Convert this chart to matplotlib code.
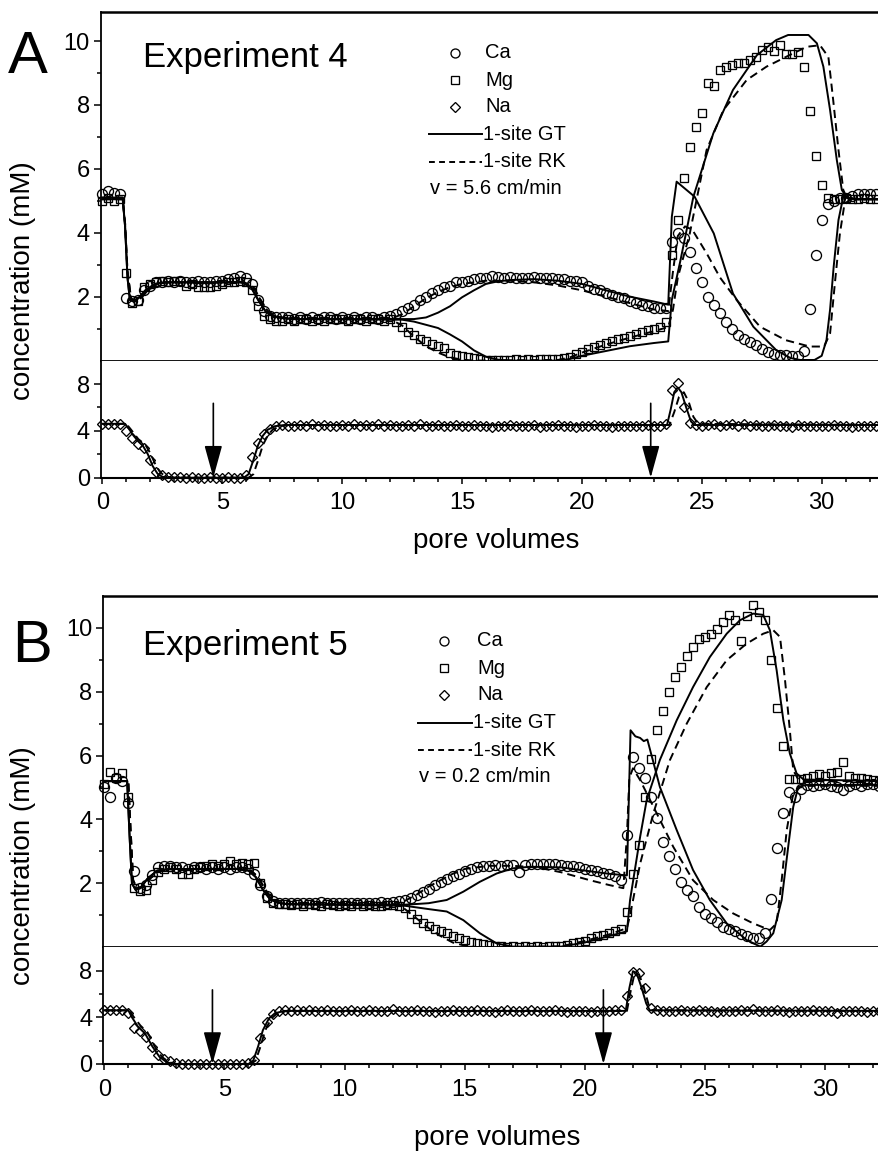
import numpy as np
import matplotlib

matplotlib.use("Agg")
import matplotlib.pyplot as plt
from matplotlib.lines import Line2D

plt.rcParams["font.family"] = ["Liberation Sans", "DejaVu Sans"]

W, H = 879, 1151

# effluent fractions, one every quarter pore volume
PV_STEP = 0.25
pv = np.arange(130) * PV_STEP

# ── Experiment 4 (v = 5.6 cm/min) ────────────────────────────────────────────
ca_4 = [
    5.2, 5.3, 5.25, 5.2, 1.95, 1.85, 1.9, 2.2, 2.35, 2.45,
    2.45, 2.5, 2.45, 2.5, 2.45, 2.45, 2.5, 2.45, 2.45, 2.5,
    2.5, 2.55, 2.6, 2.65, 2.6, 2.4, 1.9, 1.55, 1.4, 1.35,
    1.35, 1.35, 1.3, 1.35, 1.3, 1.35, 1.3, 1.35, 1.35, 1.3,
    1.35, 1.3, 1.35, 1.3, 1.35, 1.35, 1.3, 1.35, 1.4, 1.45,
    1.55, 1.65, 1.75, 1.9, 2.0, 2.1, 2.2, 2.3, 2.35, 2.45,
    2.45, 2.5, 2.55, 2.6, 2.6, 2.65, 2.62, 2.6, 2.62, 2.6,
    2.6, 2.58, 2.62, 2.6, 2.6, 2.58, 2.55, 2.55, 2.5, 2.5,
    2.45, 2.35, 2.25, 2.2, 2.1, 2.05, 2.0, 1.95, 1.85, 1.8,
    1.75, 1.7, 1.65, 1.65, 1.65, 3.7, 4.0, 3.85, 3.4, 2.9,
    2.45, 2.0, 1.75, 1.5, 1.2, 1.0, 0.8, 0.68, 0.58, 0.48,
    0.36, 0.28, 0.22, 0.18, 0.16, 0.13, 0.15, 0.3, 1.6, 3.3,
    4.4, 4.9, 5.0, 5.1, 5.1, 5.15, 5.2, 5.2, 5.2, 5.2,
]
mg_4 = [
    5.0, 5.1, 5.0, 5.05, 2.74, 1.8, 1.85, 2.3, 2.4, 2.45,
    2.5, 2.45, 2.5, 2.5, 2.35, 2.4, 2.3, 2.3, 2.3, 2.35,
    2.4, 2.45, 2.45, 2.5, 2.45, 2.2, 1.7, 1.4, 1.3, 1.25,
    1.25, 1.3, 1.25, 1.3, 1.3, 1.25, 1.3, 1.25, 1.3, 1.3,
    1.3, 1.25, 1.3, 1.3, 1.25, 1.3, 1.3, 1.25, 1.3, 1.2,
    1.05, 0.9, 0.8, 0.68, 0.6, 0.52, 0.45, 0.38, 0.25, 0.18,
    0.13, 0.1, 0.07, 0.05, 0.03, 0.03, 0.02, 0.03, 0.02, 0.04,
    0.03, 0.05, 0.03, 0.04, 0.05, 0.04, 0.06, 0.08, 0.12, 0.2,
    0.28, 0.35, 0.42, 0.48, 0.55, 0.6, 0.68, 0.72, 0.78, 0.82,
    0.88, 0.95, 1.0, 1.05, 1.2, 3.3, 4.4, 5.7, 6.7, 7.3,
    7.75, 8.7, 8.6, 9.1, 9.2, 9.25, 9.3, 9.3, 9.4, 9.5,
    9.72, 9.8, 9.68, 9.87, 9.6, 9.6, 9.65, 9.2, 7.8, 6.4,
    5.5, 5.1, 5.05, 5.05, 5.1, 5.05, 5.05, 5.1, 5.05, 5.05,
]
na_4 = [
    4.6, 4.6, 4.55, 4.6, 4.0, 3.4, 2.9, 2.5, 1.5, 0.5,
    0.2, 0.1, 0.05, 0.02, 0.0, 0.02, 0.0, 0.0, 0.02, 0.0,
    0.0, 0.02, 0.0, 0.0, 0.2, 1.8, 3.0, 3.7, 4.2, 4.4,
    4.5, 4.45, 4.4, 4.5, 4.45, 4.55, 4.4, 4.5, 4.45, 4.4,
    4.5, 4.45, 4.55, 4.4, 4.5, 4.45, 4.6, 4.4, 4.5, 4.45,
    4.4, 4.5, 4.45, 4.55, 4.4, 4.45, 4.5, 4.4, 4.45, 4.5,
    4.4, 4.45, 4.5, 4.4, 4.45, 4.35, 4.45, 4.4, 4.5, 4.4,
    4.45, 4.4, 4.5, 4.35, 4.45, 4.4, 4.5, 4.4, 4.45, 4.35,
    4.45, 4.4, 4.5, 4.4, 4.45, 4.35, 4.45, 4.4, 4.45, 4.4,
    4.45, 4.5, 4.4, 4.45, 4.6, 7.5, 8.1, 6.0, 4.7, 4.5,
    4.45, 4.5, 4.55, 4.45, 4.5, 4.55, 4.45, 4.6, 4.45, 4.5,
    4.4, 4.45, 4.5, 4.4, 4.45, 4.35, 4.5, 4.4, 4.45, 4.4,
    4.45, 4.4, 4.5, 4.4, 4.45, 4.35, 4.4, 4.45, 4.4, 4.45,
]

# model curves, experiment 4
gt_ca_4_x = [0, 0.85, 0.95, 1.05, 1.15, 1.3, 1.5, 1.8, 2.2, 2.6, 5.8, 6.2, 6.5, 6.8, 7.1, 7.5, 8,
             12.5, 13, 13.5, 14, 14.5, 15, 15.5, 16, 16.5, 17, 18, 19, 20, 21, 22, 23, 23.6,
             23.75, 23.95, 24.7, 25.5, 26.3, 27.15, 28.1, 28.7, 29.1, 29.7, 30.0, 30.2, 30.35,
             30.5, 30.7, 30.9, 31.1, 31.5, 32.5]
gt_ca_4_y = [5.1, 5.1, 4.2, 2.6, 1.9, 1.85, 1.95, 2.2, 2.4, 2.45, 2.45, 2.3, 1.9, 1.55, 1.4, 1.33, 1.3,
             1.3, 1.3, 1.35, 1.5, 1.7, 1.98, 2.2, 2.4, 2.48, 2.52, 2.55, 2.5, 2.4, 2.2, 2.0, 1.85, 1.75,
             4.5, 5.6, 5.13, 3.98, 2.1, 1.06, 0.33, 0.08, 0.02, 0.02, 0.15, 0.64, 1.6,
             2.94, 4.4, 5.13, 5.08, 5.05, 5.05]
rk_ca_4_x = [0, 0.85, 0.95, 1.05, 1.2, 1.35, 1.6, 1.9, 2.3, 2.7, 5.9, 6.3, 6.6, 6.9, 7.2, 7.6, 8,
             12.0, 12.5, 13, 13.5, 14, 14.5, 15, 16, 17, 18, 19, 20, 21, 22, 23, 23.6,
             23.8, 24.0, 24.3, 24.6, 25.2, 25.76, 26.45, 27.43, 28.5, 29.5, 30.1, 30.35, 30.55,
             30.76, 30.95, 31.2, 32.5]
rk_ca_4_y = [5.1, 5.1, 4.3, 2.8, 1.95, 1.85, 1.95, 2.2, 2.4, 2.45, 2.45, 2.3, 1.9, 1.55, 1.4, 1.33, 1.3,
             1.3, 1.45, 1.7, 1.95, 2.15, 2.3, 2.4, 2.5, 2.5, 2.45, 2.35, 2.2, 2.0, 1.8, 1.6, 1.55,
             2.8, 3.9, 4.2, 4.1, 3.36, 2.6, 1.9, 1.06, 0.64, 0.44, 0.44, 0.85, 2.42,
             3.98, 4.9, 5.05, 5.05]
gt_mg_4_x = [0, 0.85, 0.95, 1.05, 1.15, 1.3, 1.5, 1.8, 2.2, 2.6, 5.8, 6.2, 6.5, 6.8, 7.1, 7.5, 8,
             12.5, 13, 13.5, 14, 14.5, 15, 15.5, 16, 16.5, 17, 19, 19.5, 20, 21, 22, 23, 23.6,
             23.75, 24.1, 24.65, 25.48, 26.3, 27.3, 28.1, 28.6, 29.45, 29.8, 30.07, 30.35, 30.63,
             30.84, 31.05, 31.5, 32.5]
gt_mg_4_y = [5.05, 5.05, 4.2, 2.6, 1.9, 1.85, 1.95, 2.2, 2.4, 2.45, 2.45, 2.3, 1.9, 1.55, 1.4, 1.33, 1.3,
             1.28, 1.22, 1.12, 1.02, 0.82, 0.6, 0.32, 0.12, 0.03, 0.0, 0.0, 0.05, 0.15, 0.3, 0.45, 0.55, 0.6,
             1.9, 3.1, 5.13, 7.11, 8.47, 9.56, 10.03, 10.19, 10.19, 9.93, 9.2, 7.84, 6.28,
             5.34, 5.1, 5.05, 5.05]
rk_mg_4_x = [0, 0.85, 0.95, 1.05, 1.2, 1.35, 1.6, 1.9, 2.3, 2.7, 5.9, 6.3, 6.6, 6.9, 7.2, 7.6, 8,
             12.0, 12.5, 13, 13.5, 14, 14.5, 15, 15.5, 19, 19.5, 20, 21, 22, 23, 23.6,
             23.8, 24.0, 24.5, 25.2, 25.9, 26.87, 27.7, 28.5, 29.37, 29.93, 30.28, 30.48, 30.7,
             30.9, 31.05, 31.5, 32.5]
rk_mg_4_y = [5.05, 5.05, 4.3, 2.8, 1.95, 1.85, 1.95, 2.2, 2.4, 2.45, 2.45, 2.3, 1.9, 1.55, 1.4, 1.33, 1.3,
             1.3, 1.1, 0.75, 0.45, 0.25, 0.1, 0.03, 0.0, 0.02, 0.1, 0.25, 0.5, 0.72, 0.92, 1.05,
             1.6, 2.6, 3.98, 6.59, 7.84, 8.78, 9.2, 9.5, 9.82, 9.87, 9.5, 8.15, 6.59,
             5.34, 5.1, 5.05, 5.05]
gt_na_4_x = [0, 0.95, 1.1, 1.3, 1.5, 1.7, 1.9, 2.1, 2.3, 2.5, 2.8, 5.9, 6.1, 6.3, 6.5, 6.7, 6.9, 7.2,
             7.6, 23.55, 23.7, 23.85, 24.0, 24.15, 24.35, 24.55, 24.7, 32.5]
gt_na_4_y = [4.6, 4.6, 4.2, 3.6, 3.1, 2.7, 2.0, 1.0, 0.35, 0.08, 0.0, 0.0, 0.3, 1.5, 2.8, 3.6, 4.1, 4.4,
             4.5, 4.5, 5.8, 7.3, 7.7, 7.3, 6.0, 4.8, 4.5, 4.5]
rk_na_4_x = [0, 1.0, 1.2, 1.5, 1.8, 2.0, 2.2, 2.4, 2.6, 2.9, 6.1, 6.3, 6.5, 6.7, 6.9, 7.1, 7.4, 7.8,
             23.65, 23.85, 24.05, 24.25, 24.45, 24.65, 24.85, 32.5]
rk_na_4_y = [4.6, 4.6, 4.1, 3.3, 2.8, 2.1, 1.2, 0.5, 0.15, 0.0, 0.0, 0.3, 1.5, 2.8, 3.6, 4.1, 4.4, 4.5,
             4.5, 5.6, 6.9, 7.3, 6.5, 5.2, 4.6, 4.5]

# ── Experiment 5 (v = 0.2 cm/min) ────────────────────────────────────────────
ca_5 = [
    5.0, 4.7, 5.3, 5.2, 4.5, 2.4, 1.85, 1.95, 2.25, 2.5,
    2.55, 2.55, 2.5, 2.5, 2.45, 2.5, 2.5, 2.45, 2.5, 2.45,
    2.5, 2.45, 2.5, 2.5, 2.45, 2.3, 1.95, 1.6, 1.45, 1.4,
    1.38, 1.4, 1.38, 1.4, 1.4, 1.38, 1.42, 1.4, 1.38, 1.4,
    1.4, 1.38, 1.4, 1.4, 1.38, 1.4, 1.42, 1.4, 1.43, 1.45,
    1.48, 1.55, 1.63, 1.72, 1.82, 1.95, 2.05, 2.15, 2.22, 2.3,
    2.4, 2.45, 2.5, 2.53, 2.55, 2.57, 2.55, 2.57, 2.57, 2.36,
    2.58, 2.6, 2.62, 2.6, 2.62, 2.6, 2.57, 2.55, 2.53, 2.52,
    2.45, 2.42, 2.38, 2.33, 2.28, 2.24, 2.12, 3.5, 5.96, 5.6,
    5.3, 4.7, 4.03, 3.3, 2.85, 2.45, 2.05, 1.78, 1.6, 1.25,
    1.04, 0.93, 0.8, 0.64, 0.58, 0.52, 0.42, 0.34, 0.28, 0.28,
    0.45, 1.5, 3.1, 4.2, 4.85, 4.7, 4.95, 5.07, 5.05, 5.07,
    5.1, 5.05, 5.0, 4.92, 5.05, 5.1, 5.05, 5.1, 5.1, 5.05,
]
mg_5 = [
    5.1, 5.5, 5.3, 5.45, 4.7, 1.85, 1.75, 1.8, 2.1, 2.35,
    2.45, 2.5, 2.45, 2.3, 2.3, 2.45, 2.5, 2.55, 2.6, 2.55,
    2.6, 2.7, 2.6, 2.65, 2.6, 2.65, 2.0, 1.55, 1.4, 1.35,
    1.35, 1.32, 1.35, 1.3, 1.35, 1.32, 1.3, 1.35, 1.32, 1.3,
    1.32, 1.3, 1.35, 1.3, 1.32, 1.3, 1.3, 1.32, 1.32, 1.28,
    1.22, 1.05, 0.9, 0.76, 0.66, 0.58, 0.51, 0.44, 0.34, 0.28,
    0.24, 0.18, 0.13, 0.1, 0.06, 0.04, 0.03, 0.02, 0.03, 0.02,
    0.03, 0.02, 0.03, 0.02, 0.03, 0.04, 0.05, 0.07, 0.12, 0.18,
    0.2, 0.28, 0.34, 0.38, 0.45, 0.5, 0.56, 1.1, 2.3, 3.2,
    4.7, 5.9, 6.8, 7.4, 8.0, 8.45, 8.77, 9.1, 9.4, 9.63,
    9.7, 9.8, 9.95, 10.18, 10.4, 10.25, 9.57, 10.38, 10.7, 10.5,
    10.23, 8.98, 7.5, 6.3, 5.28, 5.28, 5.28, 5.3, 5.35, 5.42,
    5.35, 5.45, 5.5, 5.8, 5.35, 5.3, 5.3, 5.25, 5.22, 5.2,
]
na_5 = [
    4.6, 4.6, 4.6, 4.6, 4.4, 3.1, 2.8, 2.3, 1.45, 0.8,
    0.45, 0.25, 0.1, 0.02, 0.0, 0.0, 0.02, 0.0, 0.0, 0.02,
    0.0, 0.0, 0.02, 0.0, 0.05, 0.3, 2.2, 3.6, 4.3, 4.55,
    4.6, 4.55, 4.6, 4.55, 4.6, 4.5, 4.55, 4.6, 4.55, 4.5,
    4.55, 4.6, 4.5, 4.55, 4.6, 4.5, 4.55, 4.5, 4.75, 4.55,
    4.5, 4.55, 4.6, 4.5, 4.55, 4.45, 4.55, 4.5, 4.6, 4.55,
    4.5, 4.55, 4.6, 4.5, 4.55, 4.45, 4.55, 4.6, 4.5, 4.55,
    4.5, 4.6, 4.55, 4.5, 4.55, 4.6, 4.5, 4.45, 4.55, 4.5,
    4.55, 4.45, 4.5, 4.55, 4.5, 4.6, 4.6, 5.8, 7.9, 7.8,
    6.5, 4.8, 4.6, 4.55, 4.5, 4.55, 4.6, 4.5, 4.55, 4.6,
    4.5, 4.55, 4.45, 4.55, 4.5, 4.55, 4.6, 4.5, 4.7, 4.55,
    4.5, 4.55, 4.6, 4.5, 4.45, 4.55, 4.5, 4.55, 4.6, 4.5,
    4.5, 4.55, 4.4, 4.5, 4.55, 4.5, 4.55, 4.45, 4.5, 4.55,
]

# model curves, experiment 5
gt_ca_5_x = [0, 0.95, 1.05, 1.15, 1.3, 1.5, 1.8, 2.2, 2.7, 5.5, 6.0, 6.3, 6.6, 6.9, 7.2, 7.6, 12.5,
             13.5, 14.25, 14.94, 15.63, 16.33, 17.0, 17.72, 19, 20, 21, 21.75, 21.9, 22.1, 22.3,
             22.45, 22.6, 23.12, 23.82, 24.5, 25.2, 25.9, 26.73, 27.3, 27.56, 27.84, 28.19, 28.46,
             28.67, 28.88, 29.2, 32.5]
gt_ca_5_y = [5.2, 5.2, 3.5, 2.0, 1.8, 1.85, 2.15, 2.4, 2.45, 2.45, 2.4, 2.2, 1.8, 1.5, 1.4, 1.35, 1.33,
             1.38, 1.48, 1.74, 2.05, 2.31, 2.47, 2.52, 2.5, 2.4, 2.3, 2.25, 6.79, 6.6, 6.55,
             6.45, 6.5, 5.02, 3.67, 2.42, 1.48, 0.75, 0.23, 0.02, 0.18, 0.44, 1.48, 3.14,
             4.39, 5.02, 5.08, 5.08]
rk_ca_5_x = [0, 1.0, 1.1, 1.2, 1.35, 1.6, 1.9, 2.3, 2.8, 5.6, 6.1, 6.4, 6.7, 7.0, 7.3, 7.7, 12.3,
             12.5, 13, 13.5, 14, 14.5, 15, 16, 17, 18, 19, 20.2, 21.0, 21.6, 21.75, 21.85, 22.0,
             22.3, 22.99, 23.68, 24.5, 25.34, 26.17, 27.0, 27.7, 27.98, 28.19, 28.4, 28.67, 28.95,
             29.3, 32.5]
rk_ca_5_y = [5.2, 5.2, 3.6, 2.1, 1.85, 1.9, 2.15, 2.4, 2.45, 2.45, 2.4, 2.2, 1.8, 1.5, 1.4, 1.35, 1.35,
             1.45, 1.65, 1.9, 2.1, 2.3, 2.45, 2.55, 2.55, 2.5, 2.35, 2.1, 1.95, 1.85, 3.5, 5.3, 5.6,
             5.23, 4.19, 3.14, 2.1, 1.48, 1.06, 0.75, 0.54, 0.75, 2.1, 3.67, 4.81, 5.0,
             5.05, 5.05]
gt_mg_5_x = [0, 0.95, 1.05, 1.15, 1.3, 1.5, 1.8, 2.2, 2.7, 5.5, 6.0, 6.3, 6.6, 6.9, 7.2, 7.6, 12.5,
             13.55, 14.25, 14.94, 15.63, 16.33, 17, 19, 20, 21, 21.75, 21.88, 22.3, 22.57, 23.12,
             23.82, 24.5, 25.2, 25.9, 26.45, 27.0, 27.42, 27.7, 27.98, 28.26, 28.53, 28.81, 29.1,
             32.5]
gt_mg_5_y = [5.2, 5.2, 3.5, 2.0, 1.8, 1.85, 2.15, 2.4, 2.45, 2.45, 2.4, 2.2, 1.8, 1.5, 1.4, 1.35, 1.3,
             1.19, 1.12, 0.85, 0.44, 0.12, 0.02, 0.02, 0.15, 0.35, 0.5, 1.48, 3.46, 4.6, 5.86,
             7.1, 8.14, 9.08, 9.81, 10.23, 10.44, 10.4, 9.92, 8.67, 7.1, 6.06, 5.44, 5.25,
             5.2]
rk_mg_5_x = [0, 1.0, 1.1, 1.2, 1.35, 1.6, 1.9, 2.3, 2.8, 5.6, 6.1, 6.4, 6.7, 7.0, 7.3, 7.7, 12.3,
             12.5, 13, 13.5, 14, 14.5, 15, 15.5, 19, 20, 21, 21.75, 21.88, 22.3, 22.85, 23.54,
             24.24, 25.07, 25.9, 26.73, 27.42, 27.84, 28.12, 28.33, 28.53, 28.67, 28.88, 29.2, 32.5]
rk_mg_5_y = [5.2, 5.2, 3.6, 2.1, 1.85, 1.9, 2.15, 2.4, 2.45, 2.45, 2.4, 2.2, 1.8, 1.5, 1.4, 1.35, 1.33,
             1.2, 0.9, 0.6, 0.35, 0.15, 0.05, 0.0, 0.03, 0.2, 0.4, 0.6, 1.0, 2.62, 4.19, 5.86,
             7.0, 8.14, 8.98, 9.5, 9.81, 9.92, 9.71, 8.35, 6.79, 5.54, 5.25, 5.2, 5.2]
gt_na_5_x = [0, 1.0, 1.15, 1.4, 1.7, 2.0, 2.3, 2.6, 2.9, 6.0, 6.2, 6.4, 6.6, 6.85, 7.1, 7.5,
             21.7, 21.85, 22.0, 22.15, 22.35, 22.55, 22.7, 32.5]
gt_na_5_y = [4.6, 4.6, 4.0, 3.2, 2.6, 1.5, 0.6, 0.15, 0.0, 0.0, 0.3, 1.5, 2.9, 3.9, 4.35, 4.55,
             4.55, 6.5, 7.95, 7.8, 6.6, 5.2, 4.6, 4.55]
rk_na_5_x = [0, 1.05, 1.2, 1.5, 1.8, 2.1, 2.4, 2.7, 3.0, 6.1, 6.3, 6.5, 6.7, 6.95, 7.2, 7.6,
             21.75, 21.9, 22.05, 22.25, 22.45, 22.65, 22.8, 32.5]
rk_na_5_y = [4.6, 4.6, 4.1, 3.3, 2.7, 1.5, 0.6, 0.15, 0.0, 0.0, 0.3, 1.5, 2.9, 3.9, 4.35, 4.55,
             4.55, 6.2, 7.6, 7.7, 6.6, 5.1, 4.6, 4.55]

# flow-interruption markers (pore volumes)
stops_4 = [4.63, 22.87]
stops_5 = [4.5, 20.77]

LINE_KW = dict(color="black", lw=1.4)
DASH = (0, (4.2, 2.6))
MARK_KW = dict(ls="none", mfc="none", mec="black", mew=0.95, clip_on=False)
MARKERS = {"Ca": ("o", 7.2), "Mg": ("s", 5.8), "Na": ("D", 5.4)}


def fx(px):
    return px / W


def fy(py):
    return 1 - py / H


def style_axes(ax, left_w=1.3):
    ax.spines["right"].set_visible(False)
    ax.spines["left"].set_linewidth(left_w)
    ax.tick_params(axis="both", which="major", direction="out", length=5, width=1.1,
                   labelsize=17, pad=3)
    ax.tick_params(axis="both", which="minor", direction="out", length=3, width=1.1)


def draw_panel(fig, box, xlim, ytop, series, models, stops, letter, title, speed, leg, xlab_y):
    left, y_top, y_mid, y_bot = box
    width = 1.0 - fx(left)
    ax_t = fig.add_axes([fx(left), fy(y_mid), width, (y_mid - y_top) / H])
    ax_b = fig.add_axes([fx(left), fy(y_bot), width, (y_bot - y_mid) / H])

    # ── upper axes: Ca and Mg ────────────────────────────────────────────
    ax_t.set_xlim(*xlim)
    ax_t.set_ylim(0, ytop)
    style_axes(ax_t)
    ax_t.spines["top"].set_linewidth(1.8)
    ax_t.spines["bottom"].set_linewidth(1.3)
    ax_t.tick_params(axis="x", which="both", bottom=False, labelbottom=False)
    ax_t.set_yticks([2, 4, 6, 8, 10])
    ax_t.set_yticks([1, 3, 5, 7, 9], minor=True)

    for (mx, my), ls in zip(models["Ca"] + models["Mg"], ["-", DASH, "-", DASH]):
        ax_t.plot(mx, my, ls=ls, **LINE_KW)
    for ion in ("Ca", "Mg"):
        m, ms = MARKERS[ion]
        ax_t.plot(pv, series[ion], marker=m, ms=ms, **MARK_KW)

    # ── lower axes: Na ───────────────────────────────────────────────────
    ax_b.set_xlim(*xlim)
    ax_b.set_ylim(0, 10)
    style_axes(ax_b)
    ax_b.spines["top"].set_visible(False)
    ax_b.spines["bottom"].set_linewidth(1.5)
    ax_b.set_yticks([0, 4, 8])
    ax_b.set_yticks([2, 6], minor=True)
    ax_b.set_xticks(range(0, 31, 5))
    ax_b.set_xticks(range(0, 33), minor=True)
    ax_b.tick_params(axis="x", which="major", length=4.5, pad=6)

    for (mx, my), ls in zip(models["Na"], ["-", DASH]):
        ax_b.plot(mx, my, ls=ls, **LINE_KW)
    m, ms = MARKERS["Na"]
    ax_b.plot(pv, series["Na"], marker=m, ms=ms, **MARK_KW)

    for s in stops:
        ax_b.annotate("", xy=(s, 0), xytext=(s, 6.35), annotation_clip=False,
                      arrowprops=dict(arrowstyle="-|>,head_length=2.0,head_width=0.55",
                                      color="black", lw=1.2, shrinkA=0, shrinkB=0))

    # ── labels ───────────────────────────────────────────────────────────
    lx, ltop = letter[1], letter[2]
    fig.text(fx(lx), fy(ltop), letter[0], fontsize=43, va="baseline", ha="left")
    fig.text(fx(143), fy(title[1]), title[0], fontsize=25, va="baseline", ha="left")
    fig.text(fx(23.5), fy((y_top + y_bot) / 2 + 36), "concentration (mM)", fontsize=20,
             rotation=90, va="center", ha="center")
    fig.text(fx(left + (W - left) / 2 + 6), fy(xlab_y), "pore volumes", fontsize=20,
             va="baseline", ha="center")

    # ── legend ───────────────────────────────────────────────────────────
    mk_x, tx, ln0, ln1, rows = leg
    for ion, ry in zip(("Ca", "Mg", "Na"), rows[:3]):
        m, ms = MARKERS[ion]
        fig.add_artist(Line2D([fx(mk_x)], [fy(ry)], transform=fig.transFigure, marker=m,
                              ms=ms * 0.9, ls="none", mfc="none", mec="black", mew=0.95))
        fig.text(fx(tx), fy(ry), ion, fontsize=14.5, va="center", ha="left")
    for lab, ls, ry in zip(("1-site GT", "1-site RK"), ("-", (0, (3.0, 2.2))), rows[3:5]):
        fig.add_artist(Line2D([fx(ln0), fx(ln1)], [fy(ry), fy(ry)], transform=fig.transFigure,
                              color="black", lw=1.4, ls=ls))
        fig.text(fx(ln1 + 1), fy(ry), lab, fontsize=14.5, va="center", ha="left")
    fig.text(fx(ln0 + 1), fy(rows[5]), speed, fontsize=14.5, va="center", ha="left")


fig = plt.figure(figsize=(W / 100, H / 100), dpi=100)

draw_panel(
    fig,
    box=(101, 12.3, 360.6, 477.7),
    xlim=(-0.054, 32.39),
    ytop=10.9,
    series={"Ca": ca_4, "Mg": mg_4, "Na": na_4},
    models={
        "Ca": [(gt_ca_4_x, gt_ca_4_y), (rk_ca_4_x, rk_ca_4_y)],
        "Mg": [(gt_mg_4_x, gt_mg_4_y), (rk_mg_4_x, rk_mg_4_y)],
        "Na": [(gt_na_4_x, gt_na_4_y), (rk_na_4_x, rk_na_4_y)],
    },
    stops=stops_4,
    letter=("A", 8, 73),
    title=("Experiment 4", 66.7),
    speed="v = 5.6 cm/min",
    leg=(455, 485, 429, 482, [53, 80, 107, 134, 161.7, 189]),
    xlab_y=548,
)

draw_panel(
    fig,
    box=(103.3, 595.7, 947.3, 1064),
    xlim=(-0.042, 32.24),
    ytop=11.0,
    series={"Ca": ca_5, "Mg": mg_5, "Na": na_5},
    models={
        "Ca": [(gt_ca_5_x, gt_ca_5_y), (rk_ca_5_x, rk_ca_5_y)],
        "Mg": [(gt_mg_5_x, gt_mg_5_y), (rk_mg_5_x, rk_mg_5_y)],
        "Na": [(gt_na_5_x, gt_na_5_y), (rk_na_5_x, rk_na_5_y)],
    },
    stops=stops_5,
    letter=("B", 12, 661.7),
    title=("Experiment 5", 655),
    speed="v = 0.2 cm/min",
    leg=(444, 477, 418, 472, [640.7, 668.3, 695, 722.7, 750, 777]),
    xlab_y=1145,
)

fig.savefig("out.png", dpi=100)
